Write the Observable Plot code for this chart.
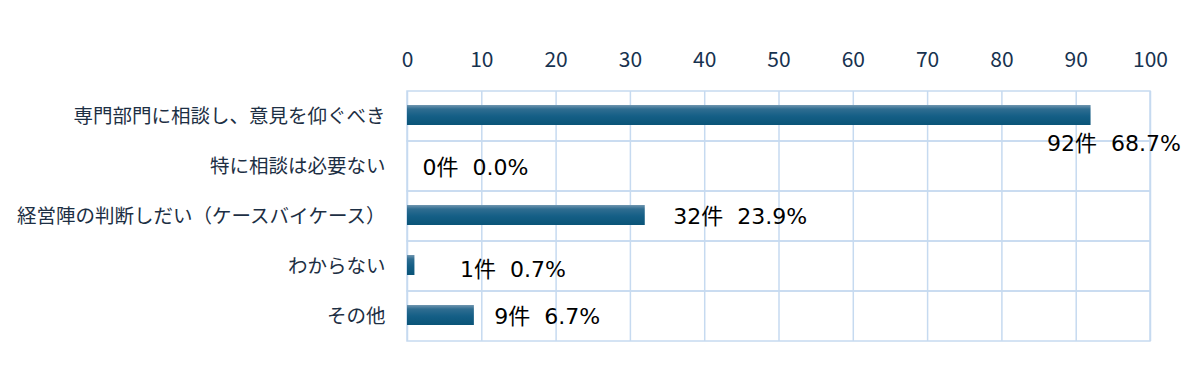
<!DOCTYPE html>
<html>
<head>
<meta charset="utf-8">
<script src="https://cdn.jsdelivr.net/npm/d3@7"></script>
<script src="https://cdn.jsdelivr.net/npm/@observablehq/plot@0.6"></script>
<style>
html,body{margin:0;padding:0;background:#fff;}
</style>
</head>
<body>
<div id="chart"></div>
<script>
const categories = ["専門部門に相談し、意見を仰ぐべき","特に相談は必要ない","経営陣の判断しだい（ケースバイケース）","わからない","その他"];
const counts = [92, 0, 32, 1, 9];
const percents = ["68.7%","0.0%","23.9%","0.7%","6.7%"];
const labelDx = [-44, 15, 28, 45, 20];
const labelDy = [27, 1, 0, 3, 0];
const xTicks = [0,10,20,30,40,50,60,70,80,90,100];

const data = categories.map((c,i)=>({category:c, count:counts[i], label:`${counts[i]}件  ${percents[i]}`}));

const font = "'Noto Sans CJK JP','Noto Sans',sans-serif";

const defs = () => {
  const ns = "http://www.w3.org/2000/svg";
  const d = document.createElementNS(ns,"defs");
  const g = document.createElementNS(ns,"linearGradient");
  g.setAttribute("id","barGrad"); g.setAttribute("x1","0"); g.setAttribute("y1","0"); g.setAttribute("x2","0"); g.setAttribute("y2","1");
  [["0%","#7096b0"],["20%","#2f6d91"],["55%","#155f86"],["100%","#0a5478"]].forEach(([o,c])=>{
    const s=document.createElementNS(ns,"stop"); s.setAttribute("offset",o); s.setAttribute("stop-color",c); g.appendChild(s);
  });
  d.appendChild(g);
  return d;
};

const chart = Plot.plot({
  width: 1200,
  height: 390,
  marginLeft: 407,
  marginRight: 50,
  marginTop: 91,
  marginBottom: 49,
  style: {fontFamily: font, fontSize: "20px", background: "#fff", overflow: "visible", color: "#1d2f44"},
  x: {domain: [0,100], axis: null},
  y: {domain: categories, padding: 0, axis: null},
  marks: [
    defs,
    Plot.ruleX(xTicks, {x: d=>d, stroke: "#c6daf0", strokeWidth: 1.5}),
    Plot.barX(data, {x1: 0, x2: 100, y: "category", fill: "none", stroke: "#c6daf0", strokeWidth: 1.5}),
    Plot.axisX(xTicks, {anchor: "top", tickSize: 0, tickPadding: 25, fontSize: 21, fill: "#17324f", label: null}),
    Plot.axisY({anchor: "left", tickSize: 0, tickPadding: 22, fontSize: 19.5, fill: "#1d2f44", label: null}),
    Plot.barX(data, {x: "count", y: "category", fill: "url(#barGrad)", insetTop: 14, insetBottom: 16}),
    ...data.map((d,i) => Plot.text([d], {x: "count", y: "category", text: "label", textAnchor: "start", dx: labelDx[i], dy: labelDy[i], fill: "#000", fontSize: 22, fontFamily: "'DejaVu Sans','Noto Sans CJK JP',sans-serif"}))
  ]
});

document.getElementById("chart").appendChild(chart);
</script>
</body>
</html>
